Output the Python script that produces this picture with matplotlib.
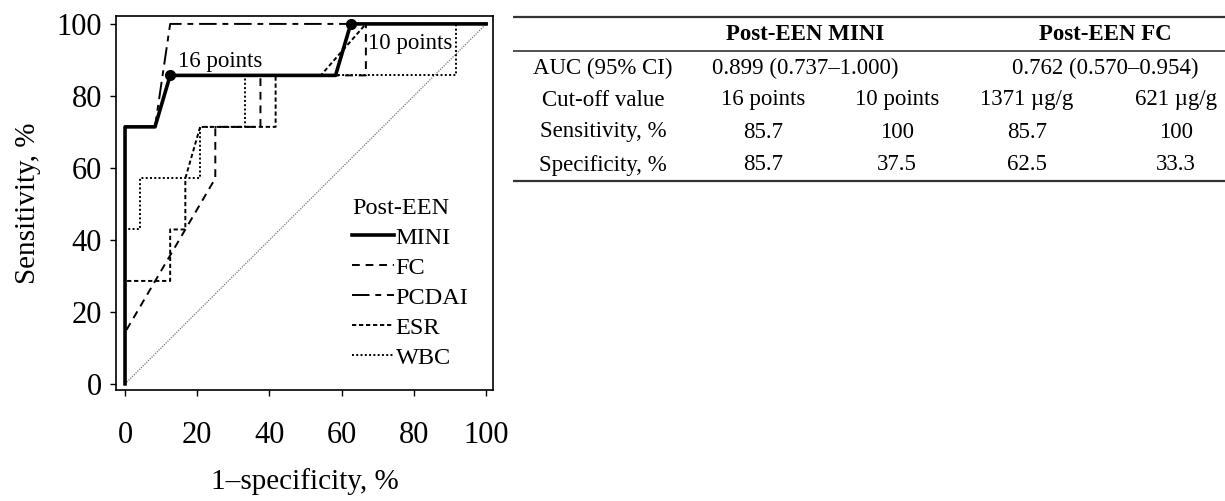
import matplotlib
matplotlib.use("Agg")
import matplotlib.pyplot as plt
import numpy as np

plt.rcParams["font.family"] = ["Liberation Serif", "DejaVu Serif"]

# ROC curves (1-specificity %, sensitivity %)
mini_x = [0, 0, 8.3, 12.5, 58.3, 62.5, 100]
mini_y = [0, 71.4, 71.4, 85.7, 85.7, 100, 100]

fc_x = [0, 0, 25, 25, 37.5, 37.5, 66.7, 66.7, 100]
fc_y = [0, 14.3, 57.1, 71.4, 71.4, 85.7, 85.7, 100, 100]

pcdai_x = [0, 0, 8.3, 12.5, 100]
pcdai_y = [0, 71.4, 71.4, 100, 100]

esr_x = [0, 0, 12.5, 12.5, 16.7, 16.7, 20.8, 41.7, 41.7, 54.2, 66.7, 100]
esr_y = [0, 28.6, 28.6, 42.9, 42.9, 57.1, 71.4, 71.4, 85.7, 85.7, 100, 100]

wbc_x = [0, 0, 4.2, 4.2, 20.8, 20.8, 33.3, 33.3, 91.7, 91.7, 100]
wbc_y = [0, 42.9, 42.9, 57.1, 57.1, 71.4, 71.4, 85.7, 85.7, 100, 100]

# cut-off points on the MINI curve
cut_x = [12.5, 62.5]
cut_y = [85.7, 100]
cut_labels = ["16 points", "10 points"]

# table contents
row_labels = ["AUC (95% CI)", "Cut-off value", "Sensitivity, %", "Specificity, %"]
group_headers = ["Post-EEN MINI", "Post-EEN FC"]
auc_values = ["0.899 (0.737\u20131.000)", "0.762 (0.570\u20130.954)"]
cutoffs = ["16 points", "10 points", "1371 \u00b5g/g", "621 \u00b5g/g"]
sensitivity = ["85.7", "100", "85.7", "100"]
specificity = ["85.7", "37.5", "62.5", "33.3"]

W, H = 1225, 501
fig = plt.figure(figsize=(W / 100, H / 100), dpi=100)

# --- ROC plot ---
ax = fig.add_axes([116 / W, 1 - 390 / H, (493 - 116) / W, (390 - 16) / H])
ax.plot([0, 100], [0, 100], color="#777777", lw=0.9, linestyle=(0, (1, 1)))
ax.plot(wbc_x, wbc_y, color="black", lw=1.4, linestyle=(0, (1, 1.2)), label="WBC")
ax.plot(esr_x, esr_y, color="black", lw=1.4, linestyle=(0, (2.2, 1.4)), label="ESR")
ax.plot(fc_x, fc_y, color="black", lw=1.4, linestyle=(0, (4, 3)), label="FC")
ax.plot(pcdai_x, pcdai_y, color="black", lw=1.4, linestyle=(0, (9, 3, 3, 3)), label="PCDAI")
ax.plot(mini_x, mini_y, color="black", lw=2.6, label="MINI")
ax.plot(cut_x, cut_y, "o", color="black", ms=7)
ax.text(cut_x[0] + 2.3, cut_y[0] + 1.0, cut_labels[0], fontsize=16.5, va="bottom")
ax.text(cut_x[1] + 4.8, cut_y[1] - 5.5, cut_labels[1], fontsize=16.5, va="center")

ax.set_xlim(-2.5, 101.9)
ax.set_ylim(-1.7, 102.2)
ax.set_xticks(np.arange(0, 101, 20))
ax.set_yticks(np.arange(0, 101, 20))
ax.tick_params(axis="both", direction="out", length=4, width=1, labelsize=22)
ax.tick_params(axis="x", pad=18)
ax.tick_params(axis="y", pad=6)
for s in ax.spines.values():
    s.set_linewidth(1.2)
ax.set_xlabel("1\u2013specificity, %", fontsize=21, labelpad=13)
ax.set_ylabel("Sensitivity, %", fontsize=21, labelpad=11)

handles, labels = ax.get_legend_handles_labels()
order = ["MINI", "FC", "PCDAI", "ESR", "WBC"]
hmap = dict(zip(labels, handles))
leg = ax.legend([hmap[k] for k in order], order, title="Post-EEN", frameon=False,
                fontsize=17.5, title_fontsize=17.5, loc="upper left",
                bbox_to_anchor=(0.6, 0.54), handlelength=1.75, handletextpad=0.05,
                labelspacing=0.33, borderaxespad=0, alignment="left")

# --- table ---
tax = fig.add_axes([510 / W, 1 - 200 / H, 715 / W, 200 / H])
tax.set_xlim(510, 1225)
tax.set_ylim(200, 0)
tax.axis("off")
tax.hlines([17, 181], 513, 1225, color="#333333", lw=1.6)
tax.hlines(51, 513, 1225, color="#333333", lw=1.2)

fs = 16.5
header_x = [805, 1105]
col_x = [763, 897, 1027, 1176]
row_y = [68, 100, 132, 165]
for hx, txt in zip(header_x, group_headers):
    tax.text(hx, 34, txt, ha="center", va="center", fontsize=fs, fontweight="bold")
for ry, txt in zip(row_y, row_labels):
    tax.text(603, ry, txt, ha="center", va="center", fontsize=fs)
for hx, txt in zip(header_x, auc_values):
    tax.text(hx, row_y[0], txt, ha="center", va="center", fontsize=fs)
for vals, ry in zip([cutoffs, sensitivity, specificity], row_y[1:]):
    for cx, txt in zip(col_x, vals):
        tax.text(cx, ry, txt, ha="center", va="center", fontsize=fs)

fig.savefig("out.png", dpi=100)
